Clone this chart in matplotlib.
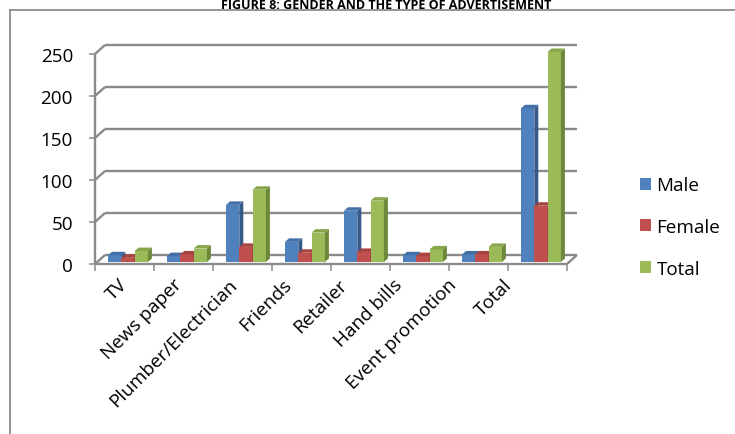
import matplotlib
matplotlib.use("Agg")
import matplotlib.pyplot as plt
from matplotlib.patches import Polygon, Patch
from matplotlib.lines import Line2D

# ---- data ----
categories = ["TV", "News paper", "Plumber/Electrician", "Friends", "Retailer",
              "Hand bills", "Event promotion", "Total"]
male = [8, 7, 68, 24, 61, 8, 9, 183]
female = [5, 9, 18, 11, 12, 7, 9, 67]
total = [13, 16, 86, 35, 73, 15, 18, 250]
series_names = ["Male", "Female", "Total"]
y_ticks = [0, 50, 100, 150, 200, 250]
title = "FIGURE 8: GENDER AND THE TYPE OF ADVERTISEMENT"

# ---- styling ----
W, H = 735, 435
face = ["#4F81BD", "#C0504D", "#9BBB59"]
top = ["#4370A8", "#A9433F", "#88A64C"]
side = ["#36598A", "#8A3533", "#6C883A"]
grid_c = "#8A8A8A"
font = "Open Sans"
fs = 13.6

plt.rcParams["font.family"] = [font, "DejaVu Sans"]

fig = plt.figure(figsize=(W / 100, H / 100), dpi=100)

# front plane of the plot box, in pixels
x0p, x1p = 95, 567
y0p, y1p = 265, 55
ax = fig.add_axes([x0p / W, 1 - y0p / H, (x1p - x0p) / W, (y0p - y1p) / H])
n = len(categories)
ax.set_xlim(-0.5, n - 0.5)
ax.set_ylim(0, 250)
for s in ax.spines.values():
    s.set_visible(False)
ax.patch.set_visible(False)

pxc = (x1p - x0p) / n          # pixels per category
pxv = (y0p - y1p) / 250.0      # pixels per value unit
cx = lambda p: p / pxc
cv = lambda p: p / pxv

DX, DY = cx(10), cv(9)         # depth of walls
BX0, BY0 = cx(2), cv(2)        # bar front offset from floor edge
BDX, BDY = cx(4), cv(3.5)      # bar depth
BW = cx(13.3)
G0 = cx(11)

L, R = -0.5, n - 0.5
lw = 1.7
kw = dict(color=grid_c, lw=lw, clip_on=False, solid_capstyle="butt", zorder=1)

# back wall gridlines and left wall diagonals
for v in y_ticks:
    ax.plot([L + DX, R + DX], [v + DY, v + DY], **kw)
    ax.plot([L, L + DX], [v, v + DY], **kw)
# floor front edge and right diagonal
ax.plot([L, R], [0, 0], **kw)
ax.plot([R, R + DX], [0, DY], **kw)
# front value axis
ax.plot([L, L], [0, 250], **kw)

# value ticks
ax.set_yticks(y_ticks)
ax.set_yticklabels([str(v) for v in y_ticks], fontsize=fs)
ax.tick_params(axis="y", length=4.3, width=1.1, color=grid_c, pad=11.5)
# category boundary ticks
ax.set_xticks([i - 0.5 for i in range(n + 1)])
ax.set_xticklabels([])
ax.tick_params(axis="x", length=5, width=1.1, color=grid_c)

# 3-D style columns
z = 2
for i in range(n):
    for j, vals in enumerate([male, female, total]):
        v = vals[i]
        xl = i - 0.5 + G0 + BX0 + j * BW
        b = BY0
        ax.bar(xl, v, width=BW, bottom=b, align="edge", color=face[j],
               linewidth=0, zorder=z, clip_on=False)
        ax.add_patch(Polygon([(xl, v + b), (xl + BW, v + b),
                              (xl + BW + BDX, v + b + BDY), (xl + BDX, v + b + BDY)],
                             closed=True, color=top[j], lw=0, zorder=z, clip_on=False))
        ax.add_patch(Polygon([(xl + BW, b), (xl + BW + BDX, b + BDY),
                              (xl + BW + BDX, v + b + BDY), (xl + BW, v + b)],
                             closed=True, color=side[j], lw=0, zorder=z, clip_on=False))
        z += 1

# category labels
lx0 = 118 - 27.7
lw_px = 55.0 * n
ax2 = fig.add_axes([lx0 / W, 1 - 276 / H, lw_px / W, 0.01])
ax2.set_xlim(-0.5, n - 0.5)
ax2.set_xticks(range(n))
ax2.set_xticklabels(categories, rotation=45, ha="right", rotation_mode="anchor",
                    fontsize=fs)
ax2.tick_params(axis="x", length=0, pad=0)
ax2.set_yticks([])
for s in ax2.spines.values():
    s.set_visible(False)
ax2.patch.set_visible(False)

# legend
handles = [Patch(facecolor=c, edgecolor="none") for c in face]
fig.legend(handles, series_names, loc="center left",
           bbox_to_anchor=(632 / W, 1 - 228 / H), frameon=False,
           fontsize=fs, handlelength=0.6, handleheight=0.6,
           handletextpad=0.3, labelspacing=1.25, borderaxespad=0)

# chart frame
fig.add_artist(Line2D([10 / W, 10 / W], [0, 1 - 11 / H], color="#8C8C8C", lw=1.3,
                      transform=fig.transFigure))
fig.add_artist(Line2D([10 / W, 1], [1 - 11 / H, 1 - 11 / H], color="#8C8C8C", lw=1.3,
                      transform=fig.transFigure))

# title along the top edge
fig.text(386 / W, 1 - 9 / H, title, ha="center", va="baseline",
         fontsize=9, fontweight="bold", family=[font, "DejaVu Sans"])

fig.savefig("out.png", dpi=100)
